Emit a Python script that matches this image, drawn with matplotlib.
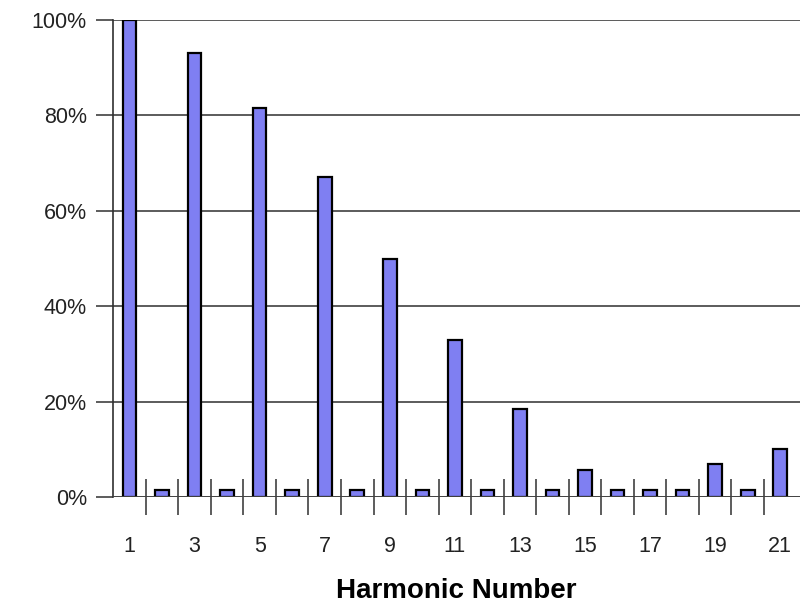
import numpy as np
import matplotlib.pyplot as plt
from matplotlib.ticker import FuncFormatter

plt.rcParams['font.family'] = ['Liberation Sans', 'DejaVu Sans']

harmonics = list(range(1, 22))
amplitude = [100, 1.5, 93, 1.5, 81.5, 1.5, 67, 1.5, 50, 1.5, 33,
             1.5, 18.5, 1.5, 5.7, 1.5, 1.5, 1.5, 7, 1.5, 10]
odd_labels = [str(h) for h in harmonics if h % 2 == 1]

fig = plt.figure(figsize=(8.03, 6.07), dpi=100)
ax = fig.add_axes([0.141, 0.181, 0.855, 0.786])

ax.bar(harmonics, amplitude, width=0.42, color='#7f7ff2',
       edgecolor='black', linewidth=1.6, zorder=3)

ax.set_xlim(0.5, 21.6)
ax.set_ylim(0, 100)

for y in range(20, 101, 20):
    ax.axhline(y, color='#404040', linewidth=1.2, zorder=1)
ax.axhline(0, color='#404040', linewidth=1.4, zorder=4)

# x: labels on odd harmonics, tick marks between categories
ax.set_xticks([h for h in harmonics if h % 2 == 1])
ax.set_xticklabels(odd_labels, fontsize=15.5, color='#222222')
ax.tick_params(axis='x', which='major', length=0, pad=28)
ax.set_xticks(np.arange(1.5, 21.5, 1), minor=True)
ax.tick_params(axis='x', which='minor', direction='inout', length=26,
               width=1.1, color='#303030')

ax.set_yticks(range(0, 101, 20))
ax.yaxis.set_major_formatter(FuncFormatter(lambda v, p: f'{v:.0f}%'))
ax.tick_params(axis='y', direction='out', length=12, width=1.1,
               labelsize=15.5, labelcolor='#222222', color='#303030', pad=7)

for s in ['top', 'right', 'bottom']:
    ax.spines[s].set_visible(False)
ax.spines['left'].set_color('#303030')
ax.spines['left'].set_linewidth(1.2)

ax.set_xlabel('Harmonic Number', fontsize=20, fontweight='bold', labelpad=15)

fig.savefig('out.png', dpi=100)
